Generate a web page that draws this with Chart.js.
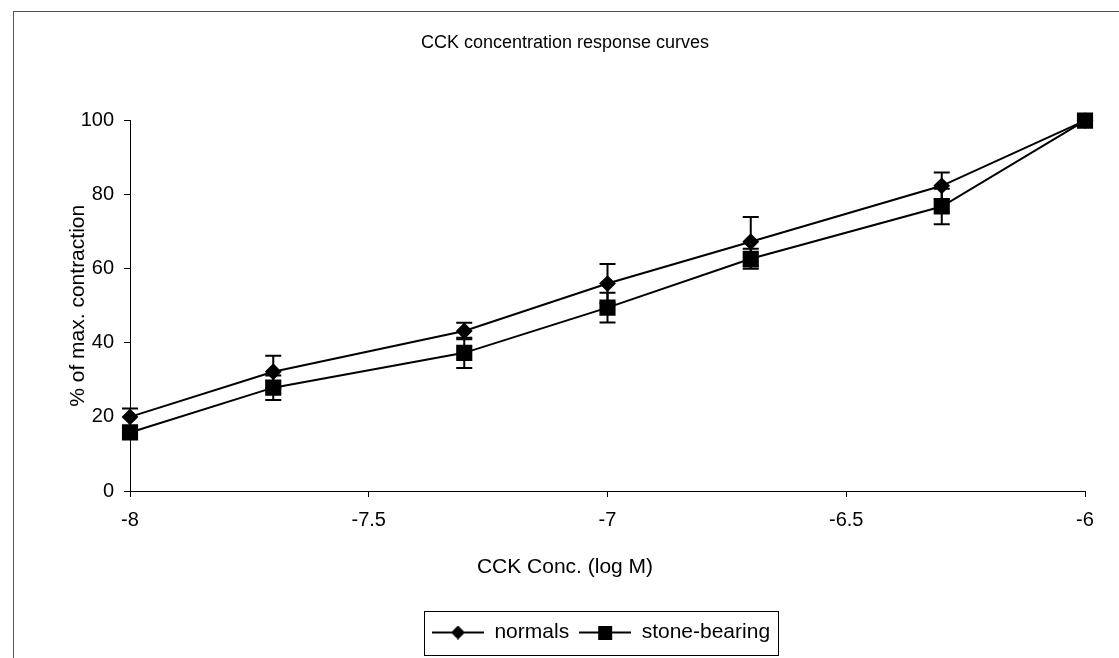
<!DOCTYPE html>
<html>
<head>
<meta charset="utf-8">
<script src="https://cdn.jsdelivr.net/npm/chart.js@4"></script>
<style>
  html, body { margin: 0; padding: 0; background: #fff; }
</style>
</head>
<body>
<canvas id="cckChart" width="1119" height="658"></canvas>
<script>
// CCK concentration (log M) and mean responses with error bars
const concentrations = [-8, -7.7, -7.3, -7, -6.7, -6.3, -6];
const normals = [20, 32.2, 43.2, 56, 67.3, 82.4, 100];
const normalsErr = [2.3, 4.3, 2.2, 5.3, 6.7, 3.6, 0];
const stoneBearing = [15.8, 27.9, 37.3, 49.5, 62.7, 76.8, 100];
const stoneErr = [1.5, 3.3, 4.1, 4, 2.7, 4.8, 0];
const xTicks = [-8, -7.5, -7, -6.5, -6];
const yTicks = [0, 20, 40, 60, 80, 100];
const xTitle = 'CCK Conc. (log M)';

const FONT = "'Liberation Sans', Arial, sans-serif";
const LEGEND_SHIFT = 36; // legend sits a bit right of centre in the original

function toPoints(values) {
    return concentrations.map((x, i) => ({ x: x, y: values[i] }));
}

// legend icon: short line with the marker in the middle (Excel style)
function makeLegendIcon(style) {
    const c = document.createElement('canvas');
    c.width = 52;
    c.height = 14;
    const g = c.getContext('2d');
    g.strokeStyle = '#000';
    g.lineWidth = 2;
    g.beginPath();
    g.moveTo(0, 7);
    g.lineTo(52, 7);
    g.stroke();
    g.fillStyle = '#000';
    if (style === 'diamond') {
        g.beginPath();
        g.moveTo(26, 0);
        g.lineTo(33, 7);
        g.lineTo(26, 14);
        g.lineTo(19, 7);
        g.closePath();
        g.fill();
    } else {
        g.fillRect(19, 0, 14, 14);
    }
    return c;
}

const errorBars = {
    id: 'errorBars',
    beforeDatasetsDraw(chart) {
        const ctx = chart.ctx;
        const xs = chart.scales.x;
        const ys = chart.scales.y;
        const errs = [normalsErr, stoneErr];
        ctx.save();
        ctx.strokeStyle = '#000';
        ctx.lineWidth = 2;
        chart.data.datasets.forEach((ds, d) => {
            ds.data.forEach((p, i) => {
                const e = errs[d][i];
                if (!e) return;
                const px = xs.getPixelForValue(p.x);
                const top = ys.getPixelForValue(p.y + e);
                const bot = ys.getPixelForValue(p.y - e);
                ctx.beginPath();
                ctx.moveTo(px, top);
                ctx.lineTo(px, bot);
                ctx.moveTo(px - 8, top);
                ctx.lineTo(px + 8, top);
                ctx.moveTo(px - 8, bot);
                ctx.lineTo(px + 8, bot);
                ctx.stroke();
            });
        });
        ctx.restore();
    }
};

// outer frame, legend box, and the x axis title (centred on the chart, not the plot)
const frames = {
    id: 'frames',
    afterUpdate(chart) {
        const lg = chart.legend;
        lg.left += LEGEND_SHIFT;
        lg.right += LEGEND_SHIFT;
        lg.legendHitBoxes.forEach(b => { b.left += LEGEND_SHIFT; });
    },
    afterDraw(chart) {
        const ctx = chart.ctx;
        ctx.save();
        ctx.strokeStyle = '#555';
        ctx.lineWidth = 1;
        ctx.strokeRect(13.5, 11.5, 1200, 700);

        const tb = chart.titleBlock;
        ctx.fillStyle = '#000';
        ctx.font = '21px ' + FONT;
        ctx.textAlign = 'center';
        ctx.textBaseline = 'middle';
        ctx.fillText(xTitle, (tb.left + tb.right) / 2, chart.scales.x.bottom - 45);

        const boxes = chart.legend.legendHitBoxes;
        if (boxes && boxes.length) {
            const left = Math.min(...boxes.map(b => b.left)) - 8;
            const right = Math.max(...boxes.map(b => b.left + b.width)) + 8;
            const top = Math.min(...boxes.map(b => b.top)) - 11;
            const bottom = Math.max(...boxes.map(b => b.top + b.height)) + 12;
            ctx.strokeStyle = '#000';
            ctx.strokeRect(Math.round(left) + 0.5, Math.round(top) + 0.5, Math.round(right - left), Math.round(bottom - top));
        }
        ctx.restore();
    }
};

const ctx = document.getElementById('cckChart').getContext('2d');
const cckChart = new Chart(ctx, {
    type: 'line',
    data: {
        datasets: [{
            label: 'normals',
            data: toPoints(normals),
            borderColor: '#000',
            backgroundColor: '#000',
            borderWidth: 2,
            pointStyle: 'rectRot',
            pointRadius: 7,
            tension: 0,
            clip: false
        }, {
            label: 'stone-bearing',
            data: toPoints(stoneBearing),
            borderColor: '#000',
            backgroundColor: '#000',
            borderWidth: 2,
            pointStyle: 'rect',
            pointRadius: 10,
            tension: 0,
            clip: false
        }]
    },
    options: {
        responsive: false,
        animation: false,
        layout: { padding: { left: 45, right: 34, top: 0, bottom: 5 } },
        plugins: {
            title: {
                display: true,
                text: 'CCK concentration response curves',
                color: '#000',
                font: { family: FONT, size: 18, weight: 'normal' },
                padding: { top: 32, bottom: 67 }
            },
            legend: {
                position: 'bottom',
                labels: {
                    color: '#000',
                    font: { family: FONT, size: 21 },
                    usePointStyle: true,
                    pointStyleWidth: 52,
                    padding: 10,
                    generateLabels(chart) {
                        return chart.data.datasets.map((ds, i) => ({
                            text: ds.label,
                            pointStyle: makeLegendIcon(i === 0 ? 'diamond' : 'square'),
                            fillStyle: '#000',
                            strokeStyle: '#000',
                            lineWidth: 0,
                            fontColor: '#000',
                            datasetIndex: i,
                            hidden: false
                        }));
                    }
                }
            },
            tooltip: { enabled: false }
        },
        scales: {
            x: {
                type: 'linear',
                min: -8,
                max: -6,
                afterBuildTicks(scale) { scale.ticks = xTicks.map(v => ({ value: v })); },
                afterFit(scale) { scale.height = 121; },
                ticks: {
                    color: '#000',
                    font: { family: FONT, size: 20 },
                    padding: 11,
                    maxRotation: 0,
                    callback: v => String(v)
                },
                grid: { drawOnChartArea: false, drawTicks: true, tickLength: 6, color: '#000' },
                border: { display: true, color: '#000', width: 1 },
                title: { display: false }
            },
            y: {
                type: 'linear',
                min: 0,
                max: 100,
                afterBuildTicks(scale) { scale.ticks = yTicks.map(v => ({ value: v })); },
                afterFit(scale) { scale.width = 85; },
                ticks: {
                    color: '#000',
                    font: { family: FONT, size: 20 },
                    padding: 10,
                    callback: v => String(v)
                },
                grid: { drawOnChartArea: false, drawTicks: true, tickLength: 6, color: '#000' },
                border: { display: true, color: '#000', width: 1 },
                title: {
                    display: true,
                    text: '% of max. contraction',
                    color: '#000',
                    font: { family: FONT, size: 21 },
                    padding: { top: 21 }
                }
            }
        }
    },
    plugins: [errorBars, frames]
});
</script>
</body>
</html>
